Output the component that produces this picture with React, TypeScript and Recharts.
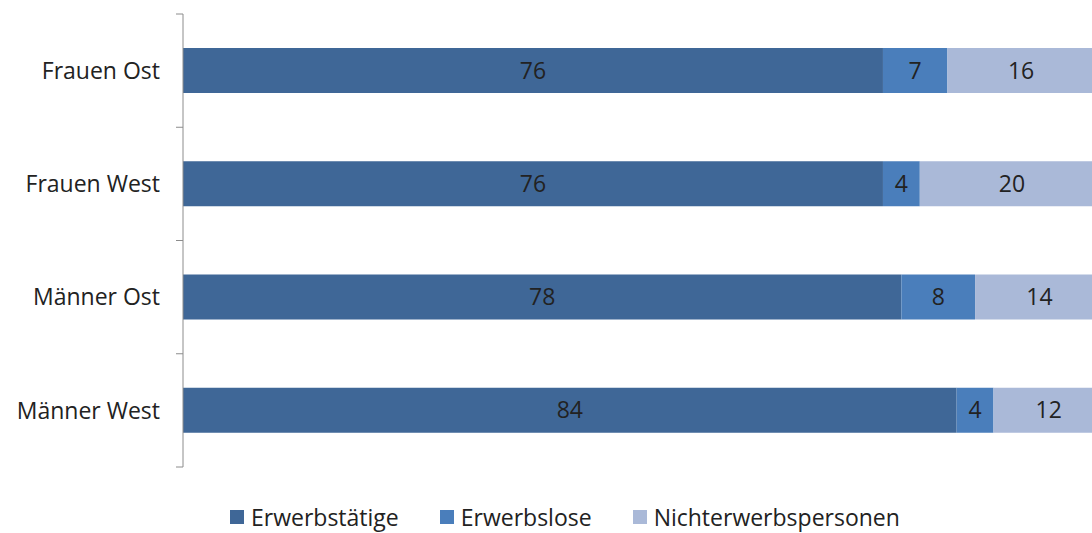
import React from 'react';
import { BarChart, Bar, XAxis, YAxis, Legend, LabelList } from 'recharts';

const categories = ['Frauen Ost', 'Frauen West', 'Männer Ost', 'Männer West'];
const erwerbstaetige = [76, 76, 78, 84];
const erwerbslose = [7, 4, 8, 4];
const nichterwerbspersonen = [16, 20, 14, 12];

const seriesNames = ['Erwerbstätige', 'Erwerbslose', 'Nichterwerbspersonen'];
const seriesKeys = ['erwerbstaetige', 'erwerbslose', 'nichterwerbspersonen'];
const seriesColors = ['#3F6797', '#4A7EBB', '#AAB9D8'];

const data = categories.map((c, i) => ({
  name: c,
  erwerbstaetige: erwerbstaetige[i],
  erwerbslose: erwerbslose[i],
  nichterwerbspersonen: nichterwerbspersonen[i],
}));

const FONT = '"Open Sans", "Liberation Sans", sans-serif';
const AXIS_COLOR = '#8C8C8C';
const TICK_SIZE = 7;
const TICK_MARGIN = 16;

const CategoryTick = (props: any) => {
  const { x, y, payload, index, visibleTicksCount } = props;
  const half = payload && payload.offset ? payload.offset : 0;
  const axisX = x + TICK_MARGIN + TICK_SIZE;
  const isLast = index === (visibleTicksCount ?? categories.length) - 1;
  return (
    <g>
      <text
        x={x}
        y={y}
        dy="0.355em"
        textAnchor="end"
        fill="#222"
        fontSize={23}
        fontFamily={FONT}
      >
        {payload.value}
      </text>
      <line x1={axisX - TICK_SIZE} x2={axisX} y1={y - half} y2={y - half} stroke={AXIS_COLOR} />
      {isLast && (
        <line x1={axisX - TICK_SIZE} x2={axisX} y1={y + half} y2={y + half} stroke={AXIS_COLOR} />
      )}
    </g>
  );
};

const LegendContent = () => (
  <div
    style={{
      display: 'flex',
      justifyContent: 'flex-start',
      paddingLeft: 230,
      paddingTop: 38,
      fontFamily: FONT,
      fontSize: 23,
      lineHeight: '24px',
      color: '#222',
    }}
  >
    {seriesNames.map((n, i) => (
      <div key={n} style={{ display: 'flex', alignItems: 'center', marginRight: 41 }}>
        <span
          style={{
            display: 'inline-block',
            width: 14,
            height: 14,
            background: seriesColors[i],
            marginRight: 7,
          }}
        />
        <span>{n}</span>
      </div>
    ))}
  </div>
);

export default function App() {
  return (
    <div
      style={{
        position: 'fixed',
        left: 0,
        top: 0,
        width: 1092,
        height: 533,
        overflow: 'hidden',
        background: '#fff',
      }}
    >
      <BarChart
        width={1104}
        height={533}
        data={data}
        layout="vertical"
        margin={{ top: 14, right: 0, bottom: 0, left: 0 }}
        barCategoryGap="30%"
      >
        <XAxis type="number" domain={[0, 100]} hide />
        <YAxis
          type="category"
          dataKey="name"
          width={183}
          axisLine={{ stroke: AXIS_COLOR }}
          tickLine={false}
          tickSize={TICK_SIZE}
          tickMargin={TICK_MARGIN}
          tick={<CategoryTick />}
        />
        <Legend verticalAlign="bottom" height={66} content={<LegendContent />} />
        {seriesKeys.map((k, i) => (
          <Bar
            key={k}
            dataKey={k}
            name={seriesNames[i]}
            stackId="a"
            fill={seriesColors[i]}
            isAnimationActive={false}
          >
            <LabelList
              dataKey={k}
              position="center"
              fill="#222"
              fontSize={23}
              fontFamily={FONT}
            />
          </Bar>
        ))}
      </BarChart>
    </div>
  );
}
